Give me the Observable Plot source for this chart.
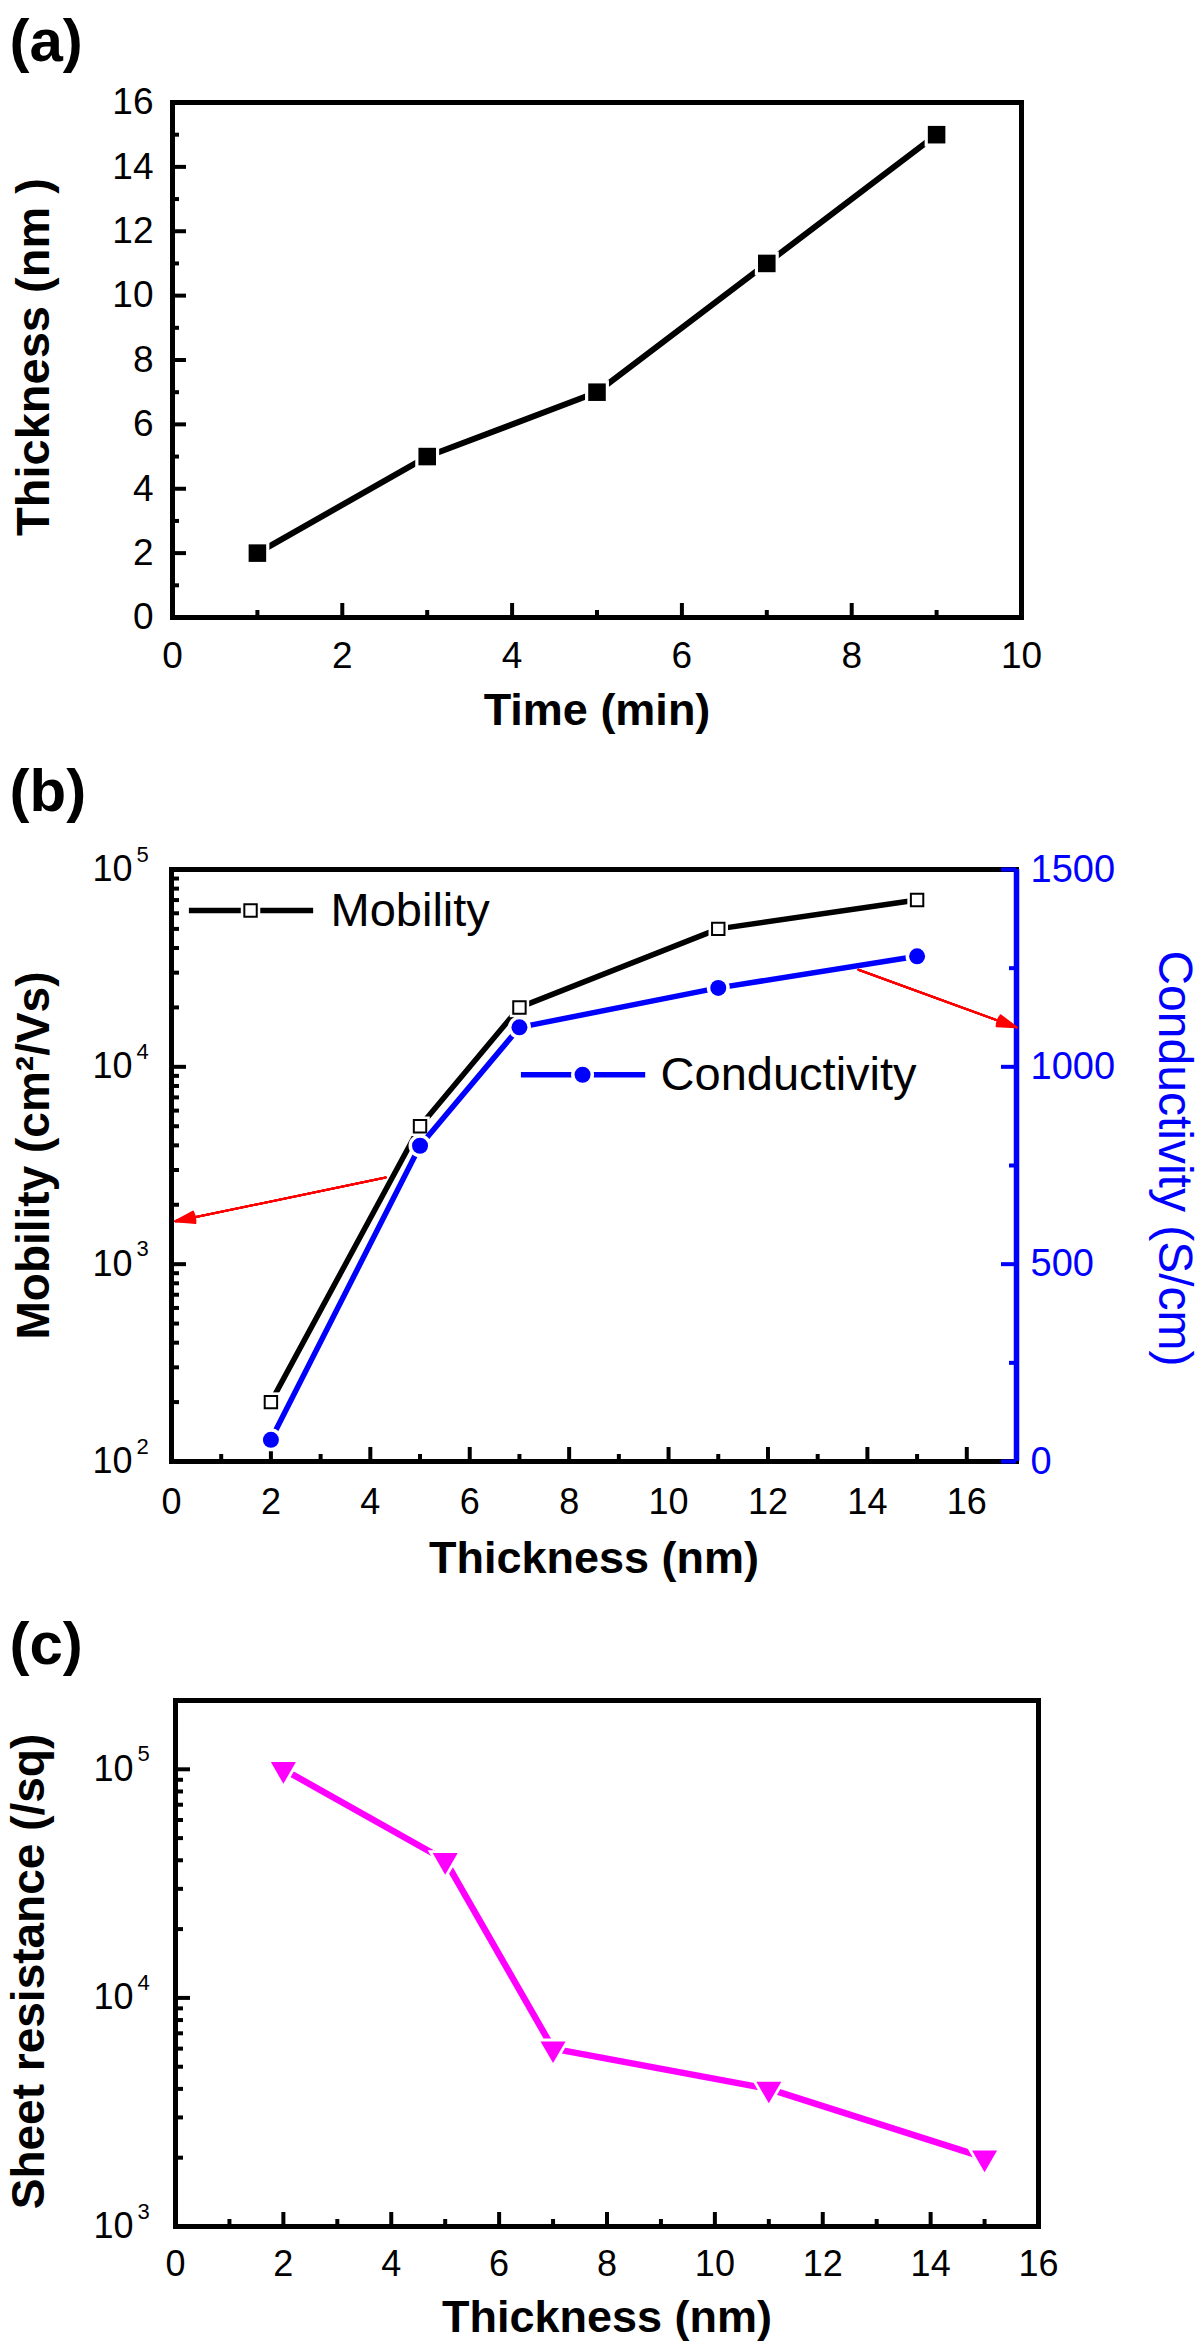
<!DOCTYPE html>
<html>
<head>
<meta charset="utf-8">
<script src="https://cdn.jsdelivr.net/npm/d3@7"></script>
<script src="https://cdn.jsdelivr.net/npm/@observablehq/plot@0.6"></script>
<style>
  html, body { margin: 0; padding: 0; background: #fff; }
  #root { position: relative; width: 1200px; height: 2341px; background: #fff; }
  #root svg { position: absolute; left: 0; overflow: visible; }
</style>
</head>
<body>
<div id="root"></div>
<script>
// ---------- DATA ----------
// Panel (a): deposition time vs thickness
const timeMin = [1, 3, 5, 7, 9];
const thicknessA = [2, 5, 7, 11, 15];

// Panel (b): thickness vs mobility (log, left) and conductivity (linear, right)
const thicknessB = [2, 5, 7, 11, 15];
const mobility = [200, 5000, 20000, 50000, 70000];
const conductivity = [55, 800, 1100, 1200, 1280];

// Panel (c): thickness vs sheet resistance (log)
const thicknessC = [2, 5, 7, 11, 15];
const sheetResistance = [100000, 40000, 6000, 4000, 2000];

// Tick values
const xMajorA = [0, 2, 4, 6, 8, 10];
const xMinorA = [1, 3, 5, 7, 9];
const yMajorA = [0, 2, 4, 6, 8, 10, 12, 14, 16];
const yMinorA = [1, 3, 5, 7, 9, 11, 13, 15];

const xMajorB = [0, 2, 4, 6, 8, 10, 12, 14, 16];
const xMinorB = [1, 3, 5, 7, 9, 11, 13, 15];
const decadesB = [100, 1000, 10000, 100000];
const condMajor = [0, 500, 1000, 1500];
const condMinor = [250, 750, 1250];

const xMajorC = [0, 2, 4, 6, 8, 10, 12, 14, 16];
const xMinorC = [1, 3, 5, 7, 9, 11, 13, 15];
const decadesC = [1000, 10000, 100000];

// Annotations (data coordinates)
const legendMob = {x1: 0.36, x2: 2.86, xm: 1.59, xt: 3.2, y: 62000, label: "Mobility"};
const legendCond = {x1: 7.04, x2: 9.54, xm: 8.27, xt: 9.84, y: 980, label: "Conductivity"};
const arrowMob = {x1: 4.31, y1: 2750, x2: 0.08, y2: 1650};
const arrowCond = {x1: 13.82, y1: 1246, x2: 17.0, y2: 1100};

// ---------- STYLE ----------
const FONT = '"Liberation Sans", Arial, Helvetica, sans-serif';
const BLUE = "#0000ff";
const MAGENTA = "#ff00ff";
const RED = "#ff0000";
const MAJ = 14, MIN = 7, TW = 4;

function minorLog(decades) {
  const out = [];
  for (let i = 0; i < decades.length - 1; i++)
    for (let k = 2; k <= 9; k++) out.push(k * decades[i]);
  return out;
}

const leftTicks = (vals, len, fw, stroke = "black") =>
  Plot.tickY(vals, {y: d => d, insetRight: fw - len, stroke, strokeWidth: TW});
const rightTicks = (vals, len, fw, stroke = "black") =>
  Plot.tickY(vals, {y: d => d, insetLeft: fw - len, stroke, strokeWidth: TW});
const bottomTicks = (vals, len, fh) =>
  Plot.tickX(vals, {x: d => d, insetTop: fh - len, stroke: "black", strokeWidth: TW});
// arrow with a (nearly) filled head: several heads of decreasing angle
const redArrow = (a) => [34, 26, 18, 10, 4].map(ang =>
  Plot.arrow([a], {x1: "x1", y1: "y1", x2: "x2", y2: "y2", stroke: RED, strokeWidth: 2, headLength: 15, headAngle: ang}));

const root = document.getElementById("root");
function place(svg, top) {
  svg.style.top = top + "px";
  root.appendChild(svg);
}

// ---------- PANEL (a) ----------
{
  const W = 1200, H = 740, mL = 172, mR = 179, mT = 102, mB = 123;
  const fw = W - mL - mR, fh = H - mT - mB;
  const data = timeMin.map((t, i) => ({t, h: thicknessA[i]}));
  const svg = Plot.plot({
    width: W, height: H, marginLeft: mL, marginRight: mR, marginTop: mT, marginBottom: mB,
    style: {fontFamily: FONT, fontSize: "37px", color: "black", background: "transparent", overflow: "visible"},
    x: {domain: [0, 10], axis: null},
    y: {domain: [0, 16], axis: null},
    marks: [
      Plot.frame({stroke: "black", strokeWidth: 5}),
      leftTicks(yMajorA, MAJ, fw), leftTicks(yMinorA, MIN, fw),
      bottomTicks(xMajorA, MAJ, fh), bottomTicks(xMinorA, MIN, fh),
      Plot.axisX({ticks: xMajorA, tickSize: 0, tickPadding: 24, label: null, fontSize: 37}),
      Plot.axisY({ticks: yMajorA, tickSize: 0, tickPadding: 19, label: null, fontSize: 37}),
      Plot.line(data, {x: "t", y: "h", stroke: "black", strokeWidth: 6}),
      Plot.dot(data, {x: "t", y: "h", symbol: "square", r: 13.5, fill: "white"}),
      Plot.dot(data, {x: "t", y: "h", symbol: "square", r: 9.9, fill: "black"}),
      Plot.text(["Time (min)"], {text: d => d, frameAnchor: "bottom", textAnchor: "middle", lineAnchor: "bottom", dy: 107, fontWeight: "bold", fontSize: 45}),
      Plot.text(["Thickness (nm )"], {text: d => d, frameAnchor: "left", textAnchor: "middle", rotate: -90, lineAnchor: "bottom", dx: -124, dy: -3, fontWeight: "bold", fontSize: 47}),
      Plot.text(["(a)"], {text: d => d, frameAnchor: "top-left", textAnchor: "start", lineAnchor: "bottom", dx: -163, dy: -42, fontWeight: "bold", fontSize: 60})
    ]
  });
  place(svg, 0);
}

// ---------- PANEL (b) ----------
{
  const TOP = 740;
  const W = 1200, H = 850, mL = 171, mR = 184, mT = 129, mB = 129;
  const fw = W - mL - mR, fh = H - mT - mB;
  const data = thicknessB.map((x, i) => ({x, mob: mobility[i], cond: conductivity[i]}));
  const common = {
    width: W, height: H, marginLeft: mL, marginRight: mR, marginTop: mT, marginBottom: mB
  };
  const svgL = Plot.plot({
    ...common,
    style: {fontFamily: FONT, fontSize: "36px", color: "black", background: "transparent", overflow: "visible"},
    x: {domain: [0, 17], axis: null},
    y: {type: "log", domain: [100, 100000], axis: null},
    marks: [
      Plot.frame({stroke: "black", strokeWidth: 5}),
      leftTicks(decadesB, MAJ + 1, fw), leftTicks(minorLog(decadesB), MIN + 1, fw),
      bottomTicks(xMajorB, MAJ, fh), bottomTicks(xMinorB, MIN, fh),
      Plot.axisX({ticks: xMajorB, tickSize: 0, tickPadding: 27, label: null, fontSize: 36}),
      Plot.text(decadesB, {y: d => d, text: () => "10", frameAnchor: "left", textAnchor: "end", dx: -39, fontSize: 36}),
      Plot.text(decadesB, {y: d => d, text: d => String(Math.round(Math.log10(d))), frameAnchor: "left", textAnchor: "start", dx: -35, dy: -15, fontSize: 22}),
      Plot.line(data, {x: "x", y: "mob", stroke: "black", strokeWidth: 5.5}),
      Plot.dot(data, {x: "x", y: "mob", symbol: "square", r: 11, fill: "white"}),
      Plot.dot(data, {x: "x", y: "mob", symbol: "square", r: 7, fill: "white", stroke: "black", strokeWidth: 2}),
      // legend (Mobility)
      Plot.ruleY([legendMob], {y: "y", x1: "x1", x2: "x2", stroke: "black", strokeWidth: 5.5}),
      Plot.dot([legendMob], {x: "xm", y: "y", symbol: "square", r: 11, fill: "white"}),
      Plot.dot([legendMob], {x: "xm", y: "y", symbol: "square", r: 7, fill: "white", stroke: "black", strokeWidth: 2}),
      Plot.text([legendMob], {x: "xt", y: "y", text: "label", textAnchor: "start", fontSize: 47}),
      ...redArrow(arrowMob),
      Plot.text(["Thickness (nm)"], {text: d => d, frameAnchor: "bottom", textAnchor: "middle", lineAnchor: "bottom", dy: 111, fontWeight: "bold", fontSize: 45}),
      Plot.text(["Mobility (cm²/Vs)"], {text: d => d, frameAnchor: "left", textAnchor: "middle", rotate: -90, lineAnchor: "bottom", dx: -123, dy: -10, fontWeight: "bold", fontSize: 46}),
      Plot.text(["(b)"], {text: d => d, frameAnchor: "top-left", textAnchor: "start", lineAnchor: "bottom", dx: -162, dy: -59, fontWeight: "bold", fontSize: 60})
    ]
  });
  place(svgL, TOP);

  const svgR = Plot.plot({
    ...common,
    style: {fontFamily: FONT, fontSize: "38px", color: "black", background: "transparent", overflow: "visible"},
    x: {domain: [0, 17], axis: null},
    y: {domain: [0, 1500], axis: null},
    marks: [
      Plot.ruleX([17], {stroke: BLUE, strokeWidth: 5.5}),
      rightTicks(condMajor, MAJ + 1, fw, BLUE), rightTicks(condMinor, MIN, fw, BLUE),
      Plot.axisY({anchor: "right", ticks: condMajor, tickFormat: d => String(d), tickSize: 0, tickPadding: 14, label: null, fill: BLUE, fontSize: 38}),
      Plot.line(data, {x: "x", y: "cond", stroke: BLUE, strokeWidth: 5.5}),
      Plot.dot(data, {x: "x", y: "cond", r: 11.5, fill: "white"}),
      Plot.dot(data, {x: "x", y: "cond", r: 8, fill: BLUE}),
      // legend (Conductivity)
      Plot.ruleY([legendCond], {y: "y", x1: "x1", x2: "x2", stroke: BLUE, strokeWidth: 5.5}),
      Plot.dot([legendCond], {x: "xm", y: "y", r: 11.5, fill: "white"}),
      Plot.dot([legendCond], {x: "xm", y: "y", r: 8, fill: BLUE}),
      Plot.text([legendCond], {x: "xt", y: "y", text: "label", textAnchor: "start", fontSize: 47, fill: "black"}),
      ...redArrow(arrowCond),
      Plot.text(["Conductivity (S/cm)"], {text: d => d, frameAnchor: "right", textAnchor: "middle", rotate: 90, lineAnchor: "bottom", dx: 142, dy: -7, fontSize: 48, fill: BLUE})
    ]
  });
  place(svgR, TOP);
}

// ---------- PANEL (c) ----------
{
  const TOP = 1590;
  const W = 1200, H = 751, mL = 175, mR = 162, mT = 110, mB = 115;
  const fw = W - mL - mR, fh = H - mT - mB;
  const data = thicknessC.map((x, i) => ({x, r: sheetResistance[i]}));
  const svg = Plot.plot({
    width: W, height: H, marginLeft: mL, marginRight: mR, marginTop: mT, marginBottom: mB,
    style: {fontFamily: FONT, fontSize: "36px", color: "black", background: "transparent", overflow: "visible"},
    x: {domain: [0, 16], axis: null},
    y: {type: "log", domain: [1000, 200000], axis: null},
    marks: [
      Plot.frame({stroke: "black", strokeWidth: 5}),
      leftTicks(decadesC, MAJ + 1, fw), leftTicks(minorLog(decadesC), MIN + 1, fw),
      bottomTicks(xMajorC, MAJ, fh), bottomTicks(xMinorC, MIN, fh),
      Plot.axisX({ticks: xMajorC, tickSize: 0, tickPadding: 24, label: null, fontSize: 36}),
      Plot.text(decadesC, {y: d => d, text: () => "10", frameAnchor: "left", textAnchor: "end", dx: -42, fontSize: 36}),
      Plot.text(decadesC, {y: d => d, text: d => String(Math.round(Math.log10(d))), frameAnchor: "left", textAnchor: "start", dx: -38, dy: -15, fontSize: 22}),
      Plot.line(data, {x: "x", y: "r", stroke: MAGENTA, strokeWidth: 6.5}),
      Plot.dot(data, {x: "x", y: "r", symbol: "triangle", rotate: 180, r: 13, fill: "white"}),
      Plot.dot(data, {x: "x", y: "r", symbol: "triangle", rotate: 180, r: 9.3, fill: MAGENTA}),
      Plot.text(["Thickness (nm)"], {text: d => d, frameAnchor: "bottom", textAnchor: "middle", lineAnchor: "bottom", dy: 105, fontWeight: "bold", fontSize: 45}),
      Plot.text(["Sheet resistance (/sq)"], {text: d => d, frameAnchor: "left", textAnchor: "middle", rotate: -90, lineAnchor: "bottom", dx: -132, dy: 8, fontWeight: "bold", fontSize: 46}),
      Plot.text(["(c)"], {text: d => d, frameAnchor: "top-left", textAnchor: "start", lineAnchor: "bottom", dx: -166, dy: -37, fontWeight: "bold", fontSize: 60})
    ]
  });
  place(svg, TOP);
}
</script>
</body>
</html>
